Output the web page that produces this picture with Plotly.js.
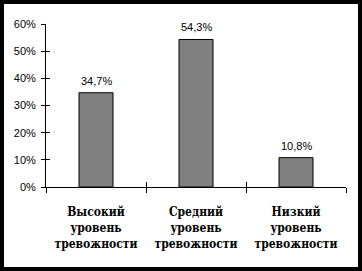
<!DOCTYPE html>
<html>
<head>
<meta charset="utf-8">
<script src="https://cdn.plot.ly/plotly-3.0.1.min.js"></script>
<style>
  html, body { margin: 0; padding: 0; background: #fff; }
  #frame { position: absolute; left: 0; top: 0; width: 362px; height: 271px; background: #000; }
  #chart { position: absolute; left: 4px; top: 4px; width: 354px; height: 263px; background: #fff; }
</style>
</head>
<body>
<div id="frame"><div id="chart"></div></div>
<script>
const categories = ["Высокий<br>уровень<br>тревожности", "Средний<br>уровень<br>тревожности", "Низкий<br>уровень<br>тревожности"];
const values = [0.347, 0.543, 0.108];
const yTicks = [0, 0.1, 0.2, 0.3, 0.4, 0.5, 0.6];

const barLabels = values.map(v => (v * 100).toFixed(1).replace('.', ',') + '%');

const traces = [
  {
    type: 'bar', x: categories, y: values,
    marker: { color: '#808080', line: { color: '#000', width: 1 } },
    hoverinfo: 'skip'
  },
  {
    type: 'bar', x: categories, y: values, xaxis: 'x2', yaxis: 'y2',
    marker: { color: 'rgba(0,0,0,0)' }, hoverinfo: 'skip', showlegend: false
  }
];

const annotations = categories.map((c, i) => ({
  x: c, y: values[i], xref: 'x', yref: 'y', text: barLabels[i],
  showarrow: false, yanchor: 'bottom', yshift: 4,
  font: { family: 'Liberation Sans, Arial, sans-serif', size: 11, color: '#000' }
}));

const layout = {
  width: 354, height: 263,
  margin: { l: 42, r: 12, t: 20, b: 80 },
  paper_bgcolor: '#fff', plot_bgcolor: '#fff',
  showlegend: false, bargap: 0.66,
  separators: ', ',
  font: { family: 'Liberation Sans, Arial, sans-serif' },
  annotations: annotations,
  xaxis: {
    type: 'category', range: [-0.5, 2.5], tickson: 'boundaries',
    ticks: 'outside', ticklen: 5, tickcolor: '#000', tickwidth: 1,
    showline: true, linecolor: '#000', linewidth: 1, showgrid: false, zeroline: false,
    tickfont: { family: 'DejaVu Serif Condensed, DejaVu Serif', size: 12, color: '#000', weight: 'bold' },
    tickangle: 0, ticklabelstandoff: 14,
    fixedrange: true
  },
  xaxis2: {
    type: 'category', range: [-0.5, 2.5], overlaying: 'x', tickson: 'boundaries',
    ticks: 'inside', ticklen: 5, tickcolor: '#000', tickwidth: 1,
    showticklabels: false, showline: false, showgrid: false, zeroline: false
  },
  yaxis: {
    range: [0, 0.6], tickvals: yTicks, tickformat: '.0%',
    ticks: 'outside', ticklen: 4, tickcolor: '#000', tickwidth: 1,
    showline: true, linecolor: '#000', linewidth: 1, showgrid: false, zeroline: false,
    tickfont: { family: 'Liberation Sans, Arial, sans-serif', size: 11, color: '#000' },
    ticklabelstandoff: 3
  },
  yaxis2: {
    range: [0, 0.6], tickvals: yTicks, overlaying: 'y', side: 'left',
    ticks: 'inside', ticklen: 4, tickcolor: '#000', tickwidth: 1,
    showticklabels: false, showline: false, showgrid: false, zeroline: false
  }
};

Plotly.newPlot('chart', traces, layout, { displayModeBar: false, staticPlot: true });
</script>
</body>
</html>
